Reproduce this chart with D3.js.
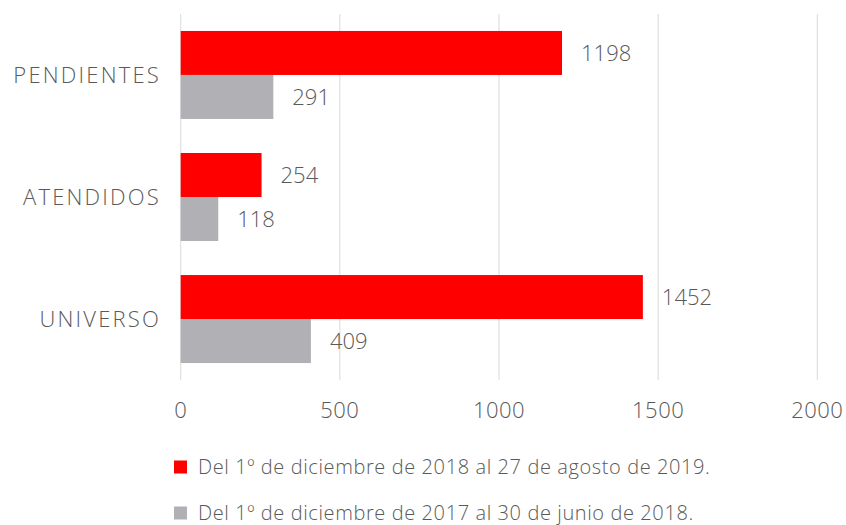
<!DOCTYPE html>
<html>
<head>
<meta charset="utf-8">
<script src="https://cdn.jsdelivr.net/npm/d3@7"></script>
<style>
  body { margin: 0; background: #fff; }
  text { font-family: "Open Sans", "Noto Sans", sans-serif; font-weight: 300; fill: #595959; }
</style>
</head>
<body>
<svg id="chart" width="846" height="525"></svg>
<script>
// chart data
const categories = ["PENDIENTES", "ATENDIDOS", "UNIVERSO"];
const seriesNames = [
  "Del 1º de diciembre de 2018 al 27 de agosto de 2019.",
  "Del 1º de diciembre de 2017 al 30 de junio de 2018."
];
const current = [1198, 254, 1452];
const previous = [291, 118, 409];
const xTicks = [0, 500, 1000, 1500, 2000];
const seriesColors = ["#FF0000", "#B1B1B5"];

const svg = d3.select("#chart");

const x = d3.scaleLinear().domain([0, 2000]).range([180.7, 817.3]);
const y = d3.scaleBand()
  .domain(categories)
  .range([14, 380])
  .paddingInner(0.279)
  .paddingOuter(0.139);
const ySub = d3.scaleBand()
  .domain([0, 1])
  .range([0, y.bandwidth()]);

// vertical grid lines
svg.append("g")
  .selectAll("line")
  .data(xTicks)
  .join("line")
  .attr("x1", d => x(d)).attr("x2", d => x(d))
  .attr("y1", 14).attr("y2", 380)
  .attr("stroke", "#D9D9D9")
  .attr("stroke-width", 1);

// bars, grouped per category
const rows = categories.map((c, i) => ({ cat: c, values: [current[i], previous[i]] }));

const groups = svg.append("g")
  .selectAll("g")
  .data(rows)
  .join("g")
  .attr("transform", d => `translate(0,${y(d.cat)})`);

groups.selectAll("rect")
  .data(d => d.values.map((v, s) => ({ v, s })))
  .join("rect")
  .attr("x", x(0))
  .attr("y", d => ySub(d.s))
  .attr("width", d => x(d.v) - x(0))
  .attr("height", ySub.bandwidth())
  .attr("fill", d => seriesColors[d.s]);

// value labels
groups.selectAll("text")
  .data(d => d.values.map((v, s) => ({ v, s })))
  .join("text")
  .attr("x", d => x(d.v) + 19)
  .attr("y", d => ySub(d.s) + ySub.bandwidth() / 2)
  .attr("dy", "0.35em")
  .style("font-size", "22px")
  .text(d => d.v);

// category labels (letter-spacing widens them toward the original typeface)
svg.append("g")
  .selectAll("text")
  .data(categories)
  .join("text")
  .attr("x", 161)
  .attr("y", d => y(d) + y.bandwidth() / 2)
  .attr("dy", "0.35em")
  .attr("text-anchor", "end")
  .style("font-size", "22px")
  .style("letter-spacing", "2.2px")
  .text(d => d);

// x axis tick labels
svg.append("g")
  .selectAll("text")
  .data(xTicks)
  .join("text")
  .attr("x", d => x(d))
  .attr("y", 410)
  .attr("dy", "0.35em")
  .attr("text-anchor", "middle")
  .style("font-size", "22px")
  .style("letter-spacing", "0.5px")
  .text(d => d);

// legend
const legend = svg.append("g")
  .selectAll("g")
  .data(seriesNames)
  .join("g")
  .attr("transform", (d, i) => `translate(174,${467 + i * 46})`);

legend.append("rect")
  .attr("x", 0).attr("y", -6.5)
  .attr("width", 13).attr("height", 13)
  .attr("fill", (d, i) => seriesColors[i]);

legend.append("text")
  .attr("x", 24)
  .attr("y", 0)
  .attr("dy", "0.35em")
  .style("font-size", "20px")
  .style("letter-spacing", "0.6px")
  .text(d => d);
</script>
</body>
</html>
